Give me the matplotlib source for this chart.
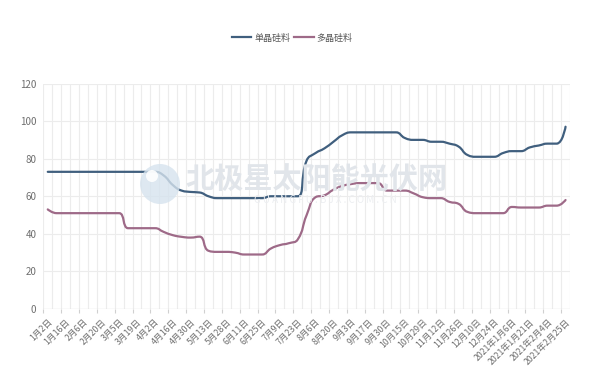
import numpy as np
import matplotlib
matplotlib.use("Agg")
import matplotlib.pyplot as plt
from matplotlib.path import Path
from matplotlib.patches import PathPatch, Ellipse

plt.rcParams['font.family'] = ['Noto Sans CJK SC', 'DejaVu Sans']

dates = ["1月2日", "1月9日", "1月16日", "1月22日", "2月6日", "2月13日", "2月20日", "2月26日",
         "3月5日", "3月12日", "3月19日", "3月26日", "4月2日", "4月9日", "4月16日", "4月23日",
         "4月30日", "5月7日", "5月13日", "5月21日", "5月28日", "6月4日", "6月11日", "6月18日",
         "6月25日", "7月2日", "7月9日", "7月16日", "7月23日", "7月30日", "8月6日", "8月13日",
         "8月20日", "8月27日", "9月3日", "9月10日", "9月17日", "9月24日", "9月30日", "10月9日",
         "10月15日", "10月22日", "10月29日", "11月5日", "11月12日", "11月19日", "11月26日",
         "12月3日", "12月10日", "12月17日", "12月24日", "12月30日", "2021年1月6日",
         "2021年1月14日", "2021年1月21日", "2021年1月27日", "2021年2月4日", "2021年2月18日",
         "2021年2月25日"]

mono = [73, 73, 73, 73, 73, 73, 73, 73, 73, 73, 73, 73, 73, 71, 66, 63, 62.3, 62, 60, 59,
        59, 59, 59, 59, 59, 60, 60, 60, 60, 79, 83, 85.5, 89, 92.5, 94, 94, 94, 94, 94, 94,
        91, 90, 90, 89, 89, 88, 86.5, 82, 81, 81, 81, 83, 84, 84, 86, 87, 88, 88, 97]

poly = [53, 51, 51, 51, 51, 51, 51, 51, 51, 43, 43, 43, 43, 41, 39.3, 38.4, 38, 38.5, 31, 30.4,
        30.4, 30, 29, 29, 29, 32.2, 34, 35, 37, 50, 59.5, 60.5, 63.5, 65.5, 66.5, 67, 67, 67,
        63, 63, 63, 61.5, 59.5, 59, 59, 57, 56, 51.7, 51, 51, 51, 51, 54.3, 54, 54, 54, 55, 55, 58]

series_names = ["单晶硅料", "多晶硅料"]
colors = ["#405f7e", "#9e6a88"]

W, H = 604, 366
fig = plt.figure(figsize=(W / 100, H / 100), dpi=100)
ax_left, ax_right, ax_top, ax_bottom = 43.3, 570, 83.5, 309
ax = fig.add_axes([ax_left / W, 1 - ax_bottom / H, (ax_right - ax_left) / W, (ax_bottom - ax_top) / H])

n = len(dates)
ax.set_xlim(-0.5, n - 0.5)
ax.set_ylim(0, 120)

# pixel scaling for smoothing distances
sx = (ax_right - ax_left) / n
sy = (ax_bottom - ax_top) / 120.0


def smooth_path(xs, ys, smooth=0.5):
    X = np.asarray(xs, float) * sx
    Y = np.asarray(ys, float) * sy
    m = len(X)
    verts = [(X[0], Y[0])]
    codes = [Path.MOVETO]
    cp0x, cp0y = X[0], Y[0]
    for i in range(1, m):
        x, y = X[i], Y[i]
        if i < m - 1:
            px, py = X[i - 1], Y[i - 1]
            nx, ny = X[i + 1], Y[i + 1]
            vx, vy = nx - px, ny - py
            lp = np.hypot(x - px, y - py)
            ln = np.hypot(nx - x, ny - y)
            r = ln / (ln + lp)
            ncx = x + vx * smooth * r
            ncy = y + vy * smooth * r
            ncx = min(ncx, max(nx, x)); ncy = min(ncy, max(ny, y))
            ncx = max(ncx, min(nx, x)); ncy = max(ncy, min(ny, y))
            vx, vy = ncx - x, ncy - y
            c1x = x - vx * lp / ln
            c1y = y - vy * lp / ln
            c1x = min(c1x, max(px, x)); c1y = min(c1y, max(py, y))
            c1x = max(c1x, min(px, x)); c1y = max(c1y, min(py, y))
            vx, vy = x - c1x, y - c1y
            ncx = x + vx * ln / lp
            ncy = y + vy * ln / lp
        else:
            c1x, c1y = x, y
            ncx, ncy = x, y
        verts += [(cp0x, cp0y), (c1x, c1y), (x, y)]
        codes += [Path.CURVE4] * 3
        cp0x, cp0y = ncx, ncy
    verts = [(vx_ / sx, vy_ / sy) for vx_, vy_ in verts]
    return Path(verts, codes)


# grid
ax.vlines(np.arange(-0.5, n, 1), 0, 120, colors="#ececec", linewidth=0.8, zorder=0)
for yv in range(20, 121, 20):
    ax.axhline(yv, color="#ececec", linewidth=0.8, zorder=0)
for s in ax.spines.values():
    s.set_visible(False)
ax.axhline(0, color="#d6d6d6", linewidth=0.9, zorder=1)

# watermark
fig.patches.append(Ellipse((160 / W, 1 - 184 / H), 40 / W, 40 / H, transform=fig.transFigure,
                           facecolor="#d6e3ee", edgecolor="none", alpha=0.8, zorder=0))
fig.patches.append(Ellipse((152 / W, 1 - 176 / H), 12 / W, 12 / H, transform=fig.transFigure,
                           facecolor="white", edgecolor="none", alpha=0.9, zorder=0.1))
fig.text(317 / W, 1 - 180 / H, "北极星太阳能光伏网", fontsize=21, fontweight="bold", style="italic",
         color="#e1e5ea", ha="center", va="center", zorder=0.5)
fig.text(325 / W, 1 - 200 / H, "G U A N G F U . B J X . C O M . C N", fontsize=7,
         color="#eceef1", ha="center", va="center", zorder=0.5)

xs = np.arange(n)
for vals, c, name in zip([mono, poly], colors, series_names):
    p = smooth_path(xs, vals)
    ax.add_patch(PathPatch(p, facecolor="none", edgecolor=c, linewidth=1.6, zorder=3,
                           capstyle="round", joinstyle="round"))
    ax.plot([], [], color=c, linewidth=1.6, label=name)

# ticks
ax.set_yticks(range(0, 121, 20))
ax.tick_params(axis="y", length=0, pad=5, labelsize=7, labelcolor="#6e6e6e")
ax.set_xticks(xs[::2])
ax.set_xticklabels(dates[::2], rotation=45, ha="right", va="top", rotation_mode="anchor")
ax.tick_params(axis="x", which="major", length=0, pad=6, labelsize=6.3, labelcolor="#6e6e6e")
ax.set_xticks(np.arange(-0.5, n, 2), minor=True)
ax.tick_params(axis="x", which="minor", length=3, color="#d0d0d0", width=0.8)

leg = fig.legend(loc="center", bbox_to_anchor=(292 / W, 1 - 38 / H), ncol=2, frameon=False,
                 fontsize=6.5, handlelength=2.2, handletextpad=0.3, columnspacing=0.4,
                 labelcolor="#555555")

fig.savefig("out.png", dpi=100, facecolor="white")
